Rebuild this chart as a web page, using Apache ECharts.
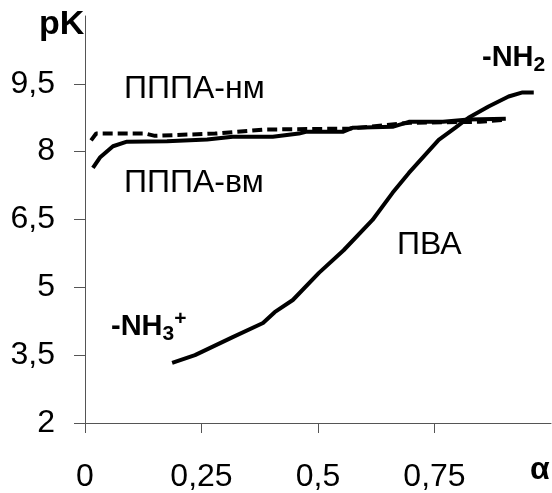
<!DOCTYPE html>
<html>
<head>
<meta charset="utf-8">
<script src="https://cdn.jsdelivr.net/npm/echarts@6/dist/echarts.min.js"></script>
<style>html,body{margin:0;padding:0;background:#fff}#c{width:552px;height:493px}</style>
</head>
<body>
<div id="c"></div>
<script>
// ПВА
const pvaX = [0.187, 0.236, 0.317, 0.382, 0.407, 0.446, 0.502, 0.555, 0.617, 0.660, 0.695, 0.759, 0.795, 0.823, 0.866, 0.909, 0.939, 0.963];
const pvaY = [3.33, 3.50, 3.90, 4.21, 4.45, 4.72, 5.32, 5.82, 6.49, 7.09, 7.53, 8.26, 8.53, 8.75, 9.00, 9.22, 9.31, 9.31];
// ПППА-вм (solid)
const vmX = [0.017, 0.032, 0.060, 0.090, 0.176, 0.262, 0.317, 0.403, 0.459, 0.474, 0.553, 0.575, 0.660, 0.695, 0.768, 0.823, 0.903];
const vmY = [7.64, 7.87, 8.12, 8.22, 8.23, 8.27, 8.33, 8.33, 8.40, 8.44, 8.44, 8.53, 8.55, 8.66, 8.66, 8.71, 8.73];
// ПППА-нм (dashed)
const nmX = [0.013, 0.024, 0.129, 0.150, 0.279, 0.386, 0.568, 0.697, 0.847, 0.903];
const nmY = [8.25, 8.40, 8.40, 8.35, 8.40, 8.49, 8.51, 8.64, 8.66, 8.71];

const xTicks = [0, 0.25, 0.5, 0.75];
const yTicks = [2, 3.5, 5, 6.5, 8, 9.5];

const zip = (a, b) => a.map((v, i) => [v, b[i]]);
const FONT = '"Liberation Sans", Arial, sans-serif';
const fmt = v => String(v).replace('.', ',');

const chart = echarts.init(document.getElementById('c'));
chart.setOption({
  animation: false,
  grid: { left: 85, right: 1, top: 16, bottom: 70 },
  xAxis: {
    type: 'value', min: 0, max: 1, interval: 0.25,
    axisLine: { show: true, lineStyle: { color: '#555', width: 1 } },
    axisTick: { show: true, length: 10, lineStyle: { color: '#555' } },
    splitLine: { show: false },
    axisLabel: {
      showMaxLabel: false, margin: 38, color: '#000', fontSize: 32, fontFamily: FONT,
      formatter: v => xTicks.includes(v) ? fmt(v) : ''
    }
  },
  yAxis: {
    type: 'value', min: 2, max: 11, interval: 1.5,
    axisLine: { show: true, lineStyle: { color: '#555', width: 1 } },
    axisTick: { show: true, length: 11, lineStyle: { color: '#555' } },
    splitLine: { show: false },
    axisLabel: {
      showMaxLabel: false, margin: 30, color: '#000', fontSize: 32, fontFamily: FONT,
      formatter: v => yTicks.includes(v) ? fmt(v) : ''
    }
  },
  series: [
    { type: 'line', data: zip(nmX, nmY), symbol: 'none', lineStyle: { color: '#000', width: 4, type: [10, 5] }, z: 3 },
    { type: 'line', data: zip(vmX, vmY), symbol: 'none', lineStyle: { color: '#000', width: 4 }, z: 2 },
    { type: 'line', data: zip(pvaX, pvaY), symbol: 'none', lineStyle: { color: '#000', width: 4 }, z: 2 }
  ],
  graphic: [
    { type: 'text', left: 39, top: 8, style: { text: 'pK', font: 'bold 34px ' + FONT, fill: '#000' } },
    { type: 'text', left: 530, top: 454, style: { text: 'α', font: 'bold 32px ' + FONT, fill: '#000' } },
    { type: 'text', left: 124, top: 73, style: { text: 'ПППА-нм', font: '32px ' + FONT, fill: '#000' } },
    { type: 'text', left: 124, top: 167, style: { text: 'ПППА-вм', font: '32px ' + FONT, fill: '#000' } },
    { type: 'text', left: 397, top: 229, style: { text: 'ПВА', font: '32px ' + FONT, fill: '#000' } },
    { type: 'text', left: 482, top: 43, style: {
      text: '{a|-NH}{s|2}', fill: '#000',
      rich: { a: { font: 'bold 29px ' + FONT, fill: '#000' },
              s: { font: 'bold 21px ' + FONT, fill: '#000', padding: [15, 0, 0, 0] } }
    } },
    { type: 'text', left: 111, top: 309, style: {
      text: '{a|-NH}{s|3}{p|+}', fill: '#000',
      rich: { a: { font: 'bold 29px ' + FONT, fill: '#000' },
              s: { font: 'bold 21px ' + FONT, fill: '#000', padding: [15, 0, 0, 0] },
              p: { font: 'bold 21px ' + FONT, fill: '#000', padding: [0, 0, 15, 0] } }
    } }
  ]
});
</script>
</body>
</html>
